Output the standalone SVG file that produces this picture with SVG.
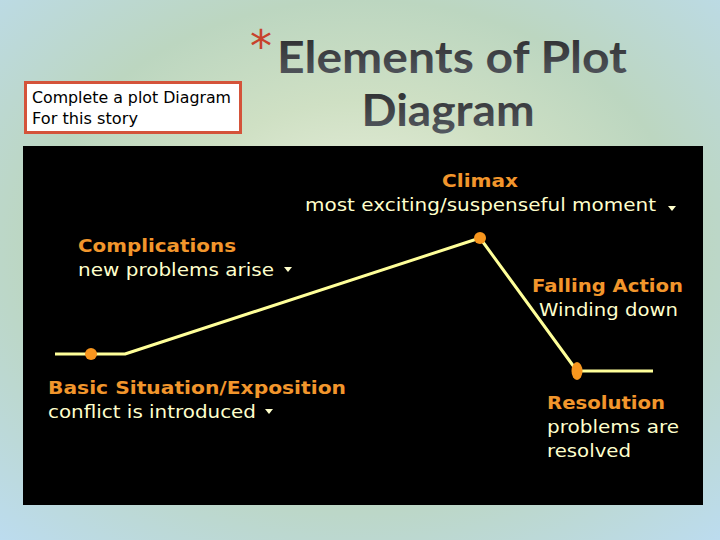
<svg xmlns="http://www.w3.org/2000/svg" width="720" height="540" viewBox="0 0 720 540">
  <defs>
    <radialGradient id="bg" cx="0.5" cy="0.45" r="0.75">
      <stop offset="0" stop-color="#eef2e2"/>
      <stop offset="0.35" stop-color="#cfe0c4"/>
      <stop offset="0.6" stop-color="#bcd6c0"/>
      <stop offset="1" stop-color="#bcdcf0"/>
    </radialGradient>
    <linearGradient id="titleGrad" x1="0" y1="0" x2="0" y2="1">
      <stop offset="0" stop-color="#2a2a2a"/>
      <stop offset="1" stop-color="#555a62"/>
    </linearGradient>
    <style>
      .title { font-family: Lato, "Liberation Sans", sans-serif; font-weight: bold; font-size: 44px; fill: url(#titleGrad); text-anchor: middle; }
      .note { font-family: "DejaVu Sans", "Liberation Sans", sans-serif; font-size: 15px; fill: #000; }
      .head { font-family: "DejaVu Sans", "Liberation Sans", sans-serif; font-weight: bold; font-size: 18px; fill: #f2962c; }
      .desc { font-family: "DejaVu Sans", "Liberation Sans", sans-serif; font-size: 18px; fill: #ffffcc; }
      .plot { fill: none; stroke: #ffff99; stroke-width: 3; stroke-linejoin: round; }
      .dot { fill: #f7961e; }
      .tri { fill: #ffffcc; }
    </style>
  </defs>

  <rect x="0" y="0" width="720" height="540" fill="url(#bg)"/>

  <g id="title">
    <text x="261" y="62" font-family="DejaVu Sans, sans-serif" font-size="44" fill="#c8422c" text-anchor="middle">*</text>
    <text class="title" x="452" y="73" textLength="350" lengthAdjust="spacingAndGlyphs">Elements of Plot</text>
    <text class="title" x="448" y="126" textLength="173" lengthAdjust="spacingAndGlyphs">Diagram</text>
  </g>

  <g id="note">
    <rect x="25.5" y="82.5" width="215" height="50" fill="#ffffff" stroke="#d4533a" stroke-width="3"/>
    <text class="note" x="32" y="103" textLength="199" lengthAdjust="spacingAndGlyphs">Complete a plot Diagram</text>
    <text class="note" x="32" y="124" textLength="106" lengthAdjust="spacingAndGlyphs">For this story</text>
  </g>

  <rect id="panel" x="23" y="146" width="680" height="359" fill="#000000"/>

  <g id="connectors">
    <polyline class="plot" points="55,354 125,354 480,238 577,371 653,371"/>
  </g>

  <g id="exposition">
    <circle class="dot" cx="91" cy="354" r="6"/>
    <text class="head" x="48" y="394" textLength="298" lengthAdjust="spacingAndGlyphs">Basic Situation/Exposition</text>
    <text class="desc" x="48" y="418" textLength="208" lengthAdjust="spacingAndGlyphs">conflict is introduced</text>
    <polygon class="tri" points="265,409 273,409 269,414"/>
  </g>

  <g id="complications">
    <text class="head" x="78" y="252" textLength="158" lengthAdjust="spacingAndGlyphs">Complications</text>
    <text class="desc" x="78" y="276" textLength="196" lengthAdjust="spacingAndGlyphs">new problems arise</text>
    <polygon class="tri" points="284,267 292,267 288,272"/>
  </g>

  <g id="climax">
    <circle class="dot" cx="480" cy="238" r="6"/>
    <text class="head" x="480" y="187" text-anchor="middle" textLength="76" lengthAdjust="spacingAndGlyphs">Climax</text>
    <text class="desc" x="305" y="211" textLength="351" lengthAdjust="spacingAndGlyphs">most exciting/suspenseful moment</text>
    <polygon class="tri" points="668,206 676,206 672,211"/>
  </g>

  <g id="falling-action">
    <text class="head" x="532" y="292" textLength="151" lengthAdjust="spacingAndGlyphs">Falling Action</text>
    <text class="desc" x="539" y="316" textLength="139" lengthAdjust="spacingAndGlyphs">Winding down</text>
  </g>

  <g id="resolution">
    <ellipse class="dot" cx="577" cy="371" rx="5.5" ry="9"/>
    <text class="head" x="547" y="409" textLength="118" lengthAdjust="spacingAndGlyphs">Resolution</text>
    <text class="desc" x="547" y="433" textLength="132" lengthAdjust="spacingAndGlyphs">problems are</text>
    <text class="desc" x="547" y="457" textLength="84" lengthAdjust="spacingAndGlyphs">resolved</text>
  </g>
</svg>
